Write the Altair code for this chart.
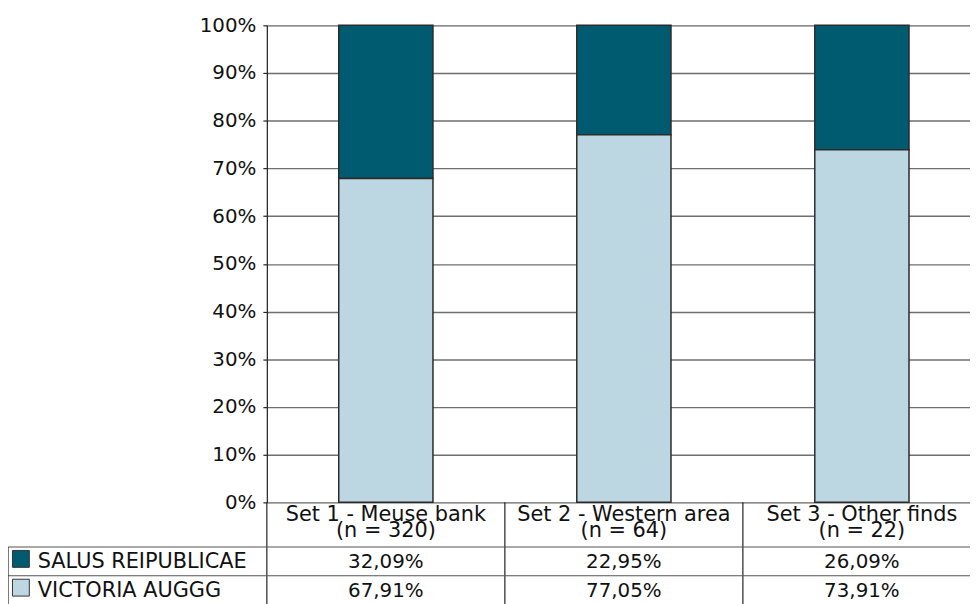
import altair as alt
import pandas as pd

categories = ["Set 1 - Meuse bank\n(n = 320)", "Set 2  - Western area\n(n = 64)", "Set 3 - Other finds\n(n = 22)"]
series = ["SALUS REIPUBLICAE", "VICTORIA AUGGG"]
salus = [32.09, 22.95, 26.09]
victoria = [67.91, 77.05, 73.91]
colors = ["#005B70", "#BCD7E2"]
y_ticks = [0, 10, 20, 30, 40, 50, 60, 70, 80, 90, 100]

FONT = "DejaVu Sans"
FS = 20

rows = []
for i, c in enumerate(categories):
    for s, vals, order in [(series[0], salus, 1), (series[1], victoria, 0)]:
        v = vals[i]
        rows.append({"cat": c, "series": s, "value": v, "order": order,
                     "label": f"{v:.2f}".replace(".", ",") + "%"})
df = pd.DataFrame(rows)
cat_df = pd.DataFrame({"cat": categories})
leg_df = pd.DataFrame({"series": series, "row": [0, 1]})

xscale = alt.Scale(domain=categories, range=[0, 720], paddingInner=0, paddingOuter=0)
cscale = alt.Scale(domain=series, range=colors)
row_y = {series[0]: 541, series[1]: 570}

bars = alt.Chart(df).mark_bar(size=95, stroke="#2b2b2b", strokeWidth=1.5).encode(
    x=alt.X("cat:N", scale=xscale, axis=None, sort=categories),
    y=alt.Y("value:Q", stack="zero",
            scale=alt.Scale(domain=[0, 100], nice=False),
            axis=alt.Axis(values=y_ticks, labelExpr="datum.value + '%'", title=None,
                          grid=True, gridColor="#6e6e6e", gridWidth=1.4,
                          domainColor="#222", domainWidth=1.2,
                          tickColor="#222", tickSize=4, tickWidth=1.2,
                          labelFont=FONT, labelFontSize=FS, labelColor="#111",
                          labelPadding=7)),
    color=alt.Color("series:N", scale=cscale, legend=None),
    order=alt.Order("order:Q"),
)

header = alt.Chart(cat_df).mark_text(
    lineBreak="\n", lineHeight=16, baseline="top", font=FONT, fontSize=21, color="#111"
).encode(x=alt.X("cat:N", scale=xscale, axis=None, sort=categories), y=alt.value(483), text="cat:N")

vals_text = []
for s in series:
    vals_text.append(
        alt.Chart(df[df["series"] == s]).mark_text(
            baseline="middle", font=FONT, fontSize=FS, color="#111"
        ).encode(x=alt.X("cat:N", scale=xscale, axis=None, sort=categories),
                 y=alt.value(row_y[s]), text="label:N")
    )

vrules = alt.Chart(cat_df).mark_rule(color="#222", strokeWidth=1.2).encode(
    x=alt.X("cat:N", scale=xscale, axis=None, sort=categories, bandPosition=0),
    y=alt.value(481), y2=alt.value(600))

hrule1 = alt.Chart(cat_df.head(1)).mark_rule(color="#555", strokeWidth=1.2).encode(
    x=alt.value(-261), x2=alt.value(712), y=alt.value(526))
hrule2 = alt.Chart(cat_df.head(1)).mark_rule(color="#555", strokeWidth=1.2).encode(
    x=alt.value(-261), x2=alt.value(712), y=alt.value(555))
lrule = alt.Chart(cat_df.head(1)).mark_rule(color="#222", strokeWidth=1.2).encode(
    x=alt.value(-261), y=alt.value(526), y2=alt.value(600))

leg_sq = []
leg_tx = []
for s in series:
    d = leg_df[leg_df["series"] == s]
    leg_sq.append(alt.Chart(d).mark_square(size=289, opacity=1, filled=True, stroke="#333", strokeWidth=1).encode(
        x=alt.value(-248), y=alt.value(row_y[s] - 3),
        color=alt.Color("series:N", scale=cscale, legend=None)))
    leg_tx.append(alt.Chart(d).mark_text(align="left", baseline="middle", font=FONT, fontSize=21, color="#111").encode(
        x=alt.value(-231), y=alt.value(row_y[s]), text="series:N"))

chart = alt.layer(bars, header, *vals_text, vrules, hrule1, hrule2, lrule, *leg_sq, *leg_tx).properties(
    width=709, height=481,
    autosize=alt.AutoSizeParams(type="none"),
    padding={"left": 261, "top": 15, "right": 0, "bottom": 100},
).configure_view(stroke=None).configure(background="white")

chart.save("out.html", embed_options={"renderer": "svg", "actions": False})
